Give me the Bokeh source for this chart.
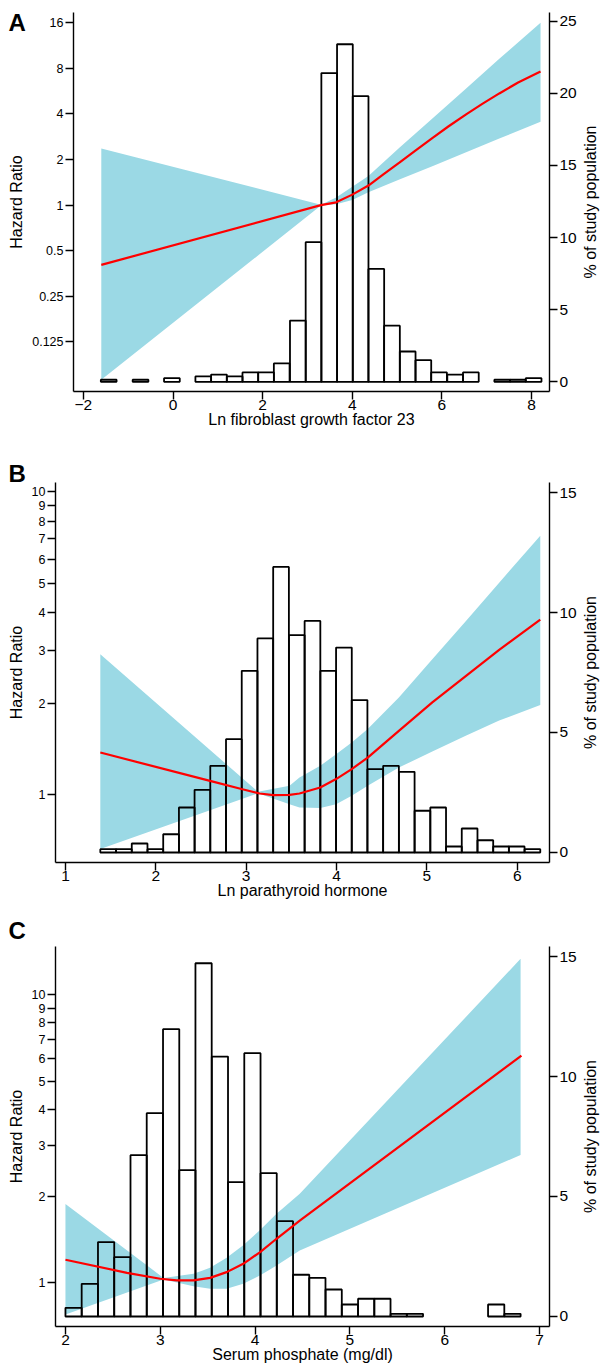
import math
from bokeh.plotting import figure
from bokeh.layouts import column, row
from bokeh.models import (Range1d, LinearScale, LinearAxis, FixedTicker,
                          CustomJSTickFormatter, Title)
from bokeh.embed import file_html
from bokeh.resources import INLINE

FONT = "Liberation Sans"
BAND = "#9BD9E5"

# ---------------- Panel A: Ln FGF-23 ----------------
fgf_bin_width = 0.351
fgf_bin_left = [-1.61, -0.90, -0.20, 0.50, 0.85, 1.20, 1.55, 1.90, 2.25, 2.61, 2.96, 3.31,
                3.66, 4.01, 4.36, 4.71, 5.06, 5.41, 5.76, 6.12, 6.47, 7.17, 7.52, 7.87]
fgf_pct = [0.14, 0.14, 0.25, 0.37, 0.50, 0.37, 0.65, 0.65, 1.27, 4.24, 9.68, 21.4,
           23.4, 19.8, 7.82, 3.89, 2.10, 1.50, 0.65, 0.49, 0.65, 0.14, 0.14, 0.25]
fgf_x = [-1.6, 3.3, 3.64, 4.0, 4.36, 4.7, 5.05, 5.4, 5.8, 6.15, 6.54, 6.9, 7.28, 7.7, 8.2]
fgf_hr = [0.403, 1.0, 1.043, 1.173, 1.347, 1.602, 1.905, 2.281, 2.790, 3.317, 3.972, 4.659, 5.464, 6.453, 7.621]
fgf_band_x = [-1.6, 3.3, 3.64, 4.0, 4.36, 5.05, 5.8, 6.54, 7.28, 8.2]
fgf_band_lo = [0.0703, 0.993, 1.014, 1.079, 1.214, 1.474, 1.815, 2.234, 2.751, 3.555]
fgf_band_hi = [2.362, 1.007, 1.123, 1.320, 1.558, 2.395, 3.758, 5.897, 9.254, 16.0]
fgf_xticks = [-2, 0, 2, 4, 6, 8]
fgf_hrticks = [0.125, 0.25, 0.5, 1, 2, 4, 8, 16]
fgf_pctticks = [0, 5, 10, 15, 20, 25]

# ---------------- Panel B: Ln PTH ----------------
pth_bin_width = 0.1739
pth_bin_left = [1.386, 1.560, 1.734, 1.908, 2.082, 2.256, 2.429, 2.603, 2.777, 2.951, 3.125, 3.299,
                3.473, 3.647, 3.821, 3.995, 4.168, 4.342, 4.516, 4.690, 4.864, 5.038, 5.212, 5.386,
                5.560, 5.734, 5.907, 6.081]
pth_pct = [0.14, 0.14, 0.375, 0.14, 0.76, 1.875, 2.61, 3.61, 4.72, 7.57, 8.92, 11.9,
           9.06, 9.65, 7.57, 8.54, 6.35, 3.47, 3.61, 3.36, 1.74, 1.875, 0.25, 1.0,
           0.51, 0.25, 0.25, 0.14]
pth_x = [1.386, 2.6, 2.948, 3.15, 3.3, 3.48, 3.59, 3.82, 3.995, 4.168, 4.345, 4.69, 5.06, 5.43, 5.80, 6.255]
pth_hr = [1.379, 1.112, 1.045, 1.010, 0.998, 1.0, 1.010, 1.057, 1.127, 1.216, 1.327, 1.626, 2.018, 2.466, 3.006, 3.784]
pth_band_x = [1.386, 3.131, 3.48, 3.59, 3.82, 3.995, 4.168, 4.345, 4.69, 5.06, 5.43, 5.80, 6.255]
pth_band_lo = [0.662, 1.012, 0.931, 0.908, 0.904, 0.931, 0.993, 1.072, 1.230, 1.390, 1.567, 1.758, 1.977]
pth_band_hi = [2.911, 1.023, 1.072, 1.140, 1.247, 1.361, 1.489, 1.648, 2.094, 2.799, 3.741, 5.012, 7.161]
pth_xticks = [1, 2, 3, 4, 5, 6]
pth_hrticks = [1, 2, 3, 4, 5, 6, 7, 8, 9, 10]
pth_pctticks = [0, 5, 10, 15]

# ---------------- Panel C: Serum phosphate ----------------
phos_bin_width = 0.1714
phos_bin_left = [2.000, 2.171, 2.343, 2.514, 2.686, 2.857, 3.029, 3.200, 3.371, 3.543, 3.714, 3.886,
                 4.057, 4.229, 4.400, 4.571, 4.743, 4.914, 5.086, 5.257, 5.429, 5.600, 6.457, 6.629]
phos_pct = [0.36, 1.36, 3.10, 2.47, 6.72, 8.47, 11.97, 6.10, 14.72, 10.83, 5.60, 10.97,
            5.97, 3.97, 1.74, 1.61, 1.125, 0.50, 0.74, 0.74, 0.11, 0.11, 0.50, 0.11]
phos_x = [2.0, 2.649, 2.999, 3.175, 3.349, 3.525, 3.70, 3.875, 4.05, 4.226, 4.471, 6.809]
phos_hr = [1.202, 1.083, 1.033, 1.019, 1.019, 1.040, 1.089, 1.164, 1.276, 1.422, 1.644, 6.152]
phos_band_x = [2.0, 3.034, 3.35, 3.525, 3.70, 3.875, 4.05, 4.226, 4.471, 6.8]
phos_band_lo = [0.776, 1.026, 0.972, 0.953, 0.953, 0.993, 1.059, 1.148, 1.294, 2.780]
phos_band_hi = [1.879, 1.040, 1.074, 1.127, 1.222, 1.349, 1.521, 1.738, 2.037, 13.34]
phos_xticks = [2, 3, 4, 5, 6, 7]
phos_hrticks = [1, 2, 3, 4, 5, 6, 7, 8, 9, 10]
phos_pctticks = [0, 5, 10, 15]

XFMT = "return tick < 0 ? '\u2212' + Math.abs(tick).toString() : tick.toString();"

LEFT_W = 26
RIGHT_W = 21
MAIN_W = 600 - LEFT_W - RIGHT_W


def no_align(f):
    try:
        f.frame_align = False
    except Exception:
        pass
    return f


def style_axis(ax, tick_font_size, label_standoff, major_standoff):
    ax.axis_line_color = "black"
    ax.axis_line_width = 1.4
    ax.major_tick_line_color = "black"
    ax.major_tick_line_width = 1.4
    ax.major_tick_out = 8
    ax.major_tick_in = 0
    ax.minor_tick_line_color = None
    ax.major_label_text_font = FONT
    ax.major_label_text_font_size = tick_font_size
    ax.major_label_text_color = "black"
    ax.major_label_standoff = major_standoff
    ax.axis_label_text_font = FONT
    ax.axis_label_text_font_size = "16px"
    ax.axis_label_text_font_style = "normal"
    ax.axis_label_text_color = "black"
    ax.axis_label_standoff = label_standoff


def blank_fig(width, height, bl, br, bt, bb):
    f = figure(width=width, height=height, x_range=Range1d(0, 1), y_range=Range1d(0, 1),
               x_axis_location=None, y_axis_location=None,
               output_backend="svg", toolbar_location=None,
               min_border_left=bl, min_border_right=br, min_border_top=bt, min_border_bottom=bb)
    f.outline_line_color = None
    f.grid.visible = False
    f.background_fill_color = "white"
    f.border_fill_color = "white"
    return no_align(f)


def side_title(text, size, style):
    return Title(text=text, align="center", text_font=FONT, text_font_size=size,
                 text_font_style=style, text_color="black", standoff=0)


def make_main(height, borders, xr, yr, pr, bins_left, bin_w, pct, lx, lhr, bx, blo, bhi,
              xticks, hrticks, pctticks, xlabel):
    bl, br, bt, bb = borders
    p = figure(width=MAIN_W, height=height, x_range=Range1d(*xr), y_range=Range1d(*yr),
               y_axis_type="log", output_backend="svg", toolbar_location=None,
               min_border_left=bl, min_border_right=br, min_border_top=bt,
               min_border_bottom=bb)
    no_align(p)
    p.outline_line_color = None
    p.background_fill_color = "white"
    p.border_fill_color = "white"
    p.xgrid.visible = False
    p.ygrid.visible = False
    p.extra_y_ranges = {"pct": Range1d(*pr)}
    p.extra_y_scales = {"pct": LinearScale()}

    # confidence band
    p.varea(x=bx, y1=blo, y2=bhi, fill_color=BAND, fill_alpha=1.0)
    # histogram (% of study population, right axis)
    rights = [l + bin_w for l in bins_left]
    p.quad(left=bins_left, right=rights, bottom=0, top=pct, y_range_name="pct",
           fill_color=None, line_color="black", line_width=1.8)
    # hazard ratio curve
    p.line(lx, lhr, line_color="#FF0000", line_width=2.2)

    p.xaxis.ticker = FixedTicker(ticks=xticks)
    p.xaxis.formatter = CustomJSTickFormatter(code=XFMT)
    p.xaxis.axis_label = xlabel
    style_axis(p.xaxis[0], "15.5px", -2, 0)

    p.yaxis.ticker = FixedTicker(ticks=hrticks)
    p.yaxis.formatter = CustomJSTickFormatter(code="return tick.toString();")
    style_axis(p.yaxis[0], "12.5px", 0, 2)

    rax = LinearAxis(y_range_name="pct", ticker=FixedTicker(ticks=pctticks))
    style_axis(rax, "15.5px", 0, 2)
    p.add_layout(rax, "right")
    return p


def make_panel(height, main_borders, left_geom, letter, main_args):
    bl, br, bt, bb = main_borders
    main = make_main(height, main_borders, *main_args)

    # left strip: panel letter (above) + "Hazard Ratio" (left, reads bottom-to-top)
    lt, lh = left_geom
    left = blank_fig(LEFT_W, height, 24, 0, lt, height - lt - lh)
    lab = Title(text=letter, align="left", offset=-16, text_font=FONT, text_font_size="24px",
                text_font_style="bold", text_color="black", standoff=0)
    left.add_layout(lab, "above")
    left.add_layout(side_title("Hazard Ratio", "16px", "normal"), "left")

    # right strip: "% of study population" (reads bottom-to-top)
    right = blank_fig(RIGHT_W, height, RIGHT_W - 2, 0, bt, bb)
    right.add_layout(side_title("% of study population", "16px", "normal"), "left")
    return row(left, main, right, spacing=0)


panelA = make_panel(448, (73 - LEFT_W, 28, 12, 57), (35, 333), "A",
                    ((-2.22, 8.40), (0.0588, 18.7), (-0.674, 25.6),
                     fgf_bin_left, fgf_bin_width, fgf_pct, fgf_x, fgf_hr,
                     fgf_band_x, fgf_band_lo, fgf_band_hi,
                     fgf_xticks, fgf_hrticks, fgf_pctticks,
                     "Ln fibroblast growth factor 23"))

panelB = make_panel(462, (55 - LEFT_W, 28, 34, 48), (38, 372), "B",
                    ((0.89, 6.357), (0.598, 10.73), (-0.417, 15.417),
                     pth_bin_left, pth_bin_width, pth_pct, pth_x, pth_hr,
                     pth_band_x, pth_band_lo, pth_band_hi,
                     pth_xticks, pth_hrticks, pth_pctticks,
                     "Ln parathyroid hormone"))

panelC = make_panel(460, (55 - LEFT_W, 28, 36, 44), (33, 386), "C",
                    ((1.895, 7.105), (0.705, 14.72), (-0.417, 15.417),
                     phos_bin_left, phos_bin_width, phos_pct, phos_x, phos_hr,
                     phos_band_x, phos_band_lo, phos_band_hi,
                     phos_xticks, phos_hrticks, phos_pctticks,
                     "Serum phosphate (mg/dl)"))

layout = column(panelA, panelB, panelC, spacing=0)
open("out.html", "w").write(file_html(layout, INLINE))
